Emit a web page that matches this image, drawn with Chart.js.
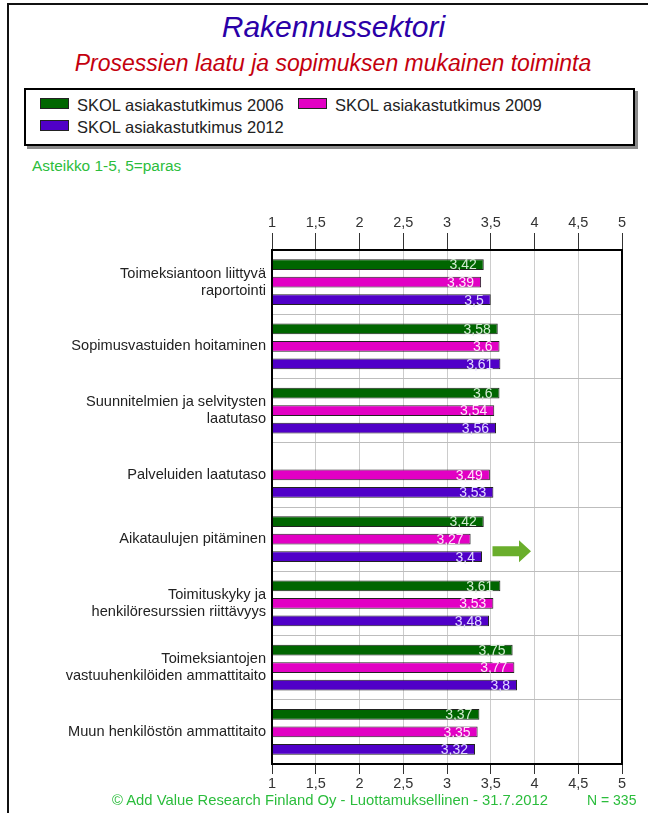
<!DOCTYPE html>
<html>
<head>
<meta charset="utf-8">
<script src="https://cdn.jsdelivr.net/npm/chart.js@4.4.1/dist/chart.umd.min.js"></script>
<style>
  body { margin: 0; width: 648px; height: 813px; position: relative; overflow: hidden; background: #fff;
         font-family: Arial, "Liberation Sans", sans-serif; }
  .frame-left { position: absolute; left: 7px; top: 3px; width: 2px; height: 810px; background: #111; }
  .frame-top { position: absolute; left: 7px; top: 3px; width: 641px; height: 2px; background: #111; }
  .txt { position: absolute; white-space: nowrap; }
  #title { left: 0; width: 667px; top: 12px; text-align: center; font-size: 30px; line-height: 30px;
           font-style: italic; color: #2a00a8; }
  #subtitle { left: 0; width: 666px; top: 52px; text-align: center; font-size: 23px; line-height: 23px;
              font-style: italic; color: #c4000e; }
  #legend { position: absolute; left: 24px; top: 88px; width: 607px; height: 54px; border: 2px solid #000;
            box-shadow: 3px 3px 0 #8a8a8a; }
  .sw { position: absolute; width: 27px; height: 9px; border: 1px solid #222; }
  .lg { font-size: 16.5px; line-height: 16px; color: #222; }
  #scale-note { left: 32px; top: 158px; font-size: 15.4px; line-height: 15px; color: #2bbd3c; }
  #footer { left: 112px; top: 793px; font-size: 14.8px; line-height: 15px; color: #2bbd3c; }
  #count { left: 587px; top: 793px; font-size: 14px; line-height: 15px; color: #2bbd3c; }
  #chartWrap { position: absolute; left: 0; top: 200px; }
</style>
</head>
<body>
<div class="frame-left"></div>
<div class="frame-top"></div>
<div id="title" class="txt">Rakennussektori</div>
<div id="subtitle" class="txt">Prosessien laatu ja sopimuksen mukainen toiminta</div>
<div id="legend"></div>
<div id="scale-note" class="txt">Asteikko 1-5, 5=paras</div>
<div id="chartWrap"><canvas id="scoreChart" width="648" height="594"></canvas></div>
<div id="footer" class="txt">© Add Value Research Finland Oy - Luottamuksellinen - 31.7.2012</div>
<div id="count" class="txt">N = 335</div>

<script>
const categories = [
  ["Toimeksiantoon liittyvä", "raportointi"],
  "Sopimusvastuiden hoitaminen",
  ["Suunnitelmien ja selvitysten", "laatutaso"],
  "Palveluiden laatutaso",
  "Aikataulujen pitäminen",
  ["Toimituskyky ja", "henkilöresurssien riittävyys"],
  ["Toimeksiantojen", "vastuuhenkilöiden ammattitaito"],
  "Muun henkilöstön ammattitaito",
];
const seriesNames = ["SKOL asiakastutkimus 2006", "SKOL asiakastutkimus 2009", "SKOL asiakastutkimus 2012"];
const survey2006 = [3.42, 3.58, 3.6, null, 3.42, 3.61, 3.75, 3.37];
const survey2009 = [3.39, 3.6, 3.54, 3.49, 3.27, 3.53, 3.77, 3.35];
const survey2012 = [3.5, 3.61, 3.56, 3.53, 3.4, 3.48, 3.8, 3.32];
const axisTicks = [1, 1.5, 2, 2.5, 3, 3.5, 4, 4.5, 5];
// improvement arrow next to "Aikataulujen pitäminen"
const arrowFrom = 3.52;
const arrowTo = 3.96;
const arrowRow = 4;

const barColors = ["#006600", "#e200c4", "#5000c8"];
const valueColors = ["#d2ecd2", "#ffe6f9", "#e0d8ff"];

// legend box in html
const legendBox = document.getElementById("legend");
const legendSpots = [[14, 8], [272, 8], [14, 30]];
seriesNames.forEach((name, i) => {
  const [lx, ly] = legendSpots[i];
  const sw = document.createElement("div");
  sw.className = "sw";
  sw.style.left = lx + "px";
  sw.style.top = ly + "px";
  sw.style.background = barColors[i];
  legendBox.appendChild(sw);
  const tx = document.createElement("div");
  tx.className = "txt lg";
  tx.style.left = (lx + 37) + "px";
  tx.style.top = (ly - 1) + "px";
  tx.textContent = name;
  legendBox.appendChild(tx);
});

const fmt = (v) => String(v).replace(".", ",");

const valueLabels = {
  id: "valueLabels",
  afterDatasetsDraw(chart) {
    const ctx = chart.ctx;
    ctx.save();
    ctx.font = "14px Arial, 'Liberation Sans', sans-serif";
    ctx.textAlign = "right";
    ctx.textBaseline = "middle";
    chart.data.datasets.forEach((ds, di) => {
      const meta = chart.getDatasetMeta(di);
      meta.data.forEach((bar, i) => {
        const v = ds.data[i];
        if (v === null || v === undefined) return;
        ctx.fillStyle = valueColors[di];
        ctx.fillText(fmt(v), bar.x - 7, bar.y + 1);
      });
    });
    ctx.restore();
  },
};

const plotFrame = {
  id: "plotFrame",
  afterDraw(chart) {
    const { ctx, chartArea: a, scales } = chart;
    ctx.save();
    ctx.strokeStyle = "#000";
    ctx.lineWidth = 2;
    ctx.strokeRect(a.left, a.top, a.right - a.left, a.bottom - a.top);

    // green arrow
    const x0 = scales.x.getPixelForValue(arrowFrom);
    const x1 = scales.x.getPixelForValue(arrowTo);
    const yc = scales.y.getPixelForValue(arrowRow) + 12;
    const head = 12;
    ctx.fillStyle = "#6aae2c";
    ctx.beginPath();
    ctx.moveTo(x0, yc - 5);
    ctx.lineTo(x1 - head, yc - 5);
    ctx.lineTo(x1 - head, yc - 11);
    ctx.lineTo(x1, yc);
    ctx.lineTo(x1 - head, yc + 11);
    ctx.lineTo(x1 - head, yc + 5);
    ctx.lineTo(x0, yc + 5);
    ctx.closePath();
    ctx.fill();
    ctx.restore();
  },
};

const valueAxis = (position, height, tickLen) => ({
  type: "linear",
  position: position,
  min: 1,
  max: 5,
  afterBuildTicks: (scale) => { scale.ticks = axisTicks.map((v) => ({ value: v })); },
  afterFit: (scale) => { scale.height = height; },
  border: { display: false },
  grid: { color: "#cccccc", lineWidth: 1, tickColor: "#333", tickLength: tickLen },
  ticks: {
    padding: 1,
    color: "#333",
    font: { family: "Arial, 'Liberation Sans', sans-serif", size: 14.5 },
    callback: (v) => fmt(v),
  },
});

const data = {
  labels: categories,
  datasets: [survey2006, survey2009, survey2012].map((vals, i) => ({
    label: seriesNames[i],
    data: vals,
    base: 1,
    backgroundColor: barColors[i],
    borderColor: "#222",
    borderWidth: 1,
    categoryPercentage: 0.82,
    barPercentage: 0.61,
  })),
};

const config = {
  type: "bar",
  data: data,
  options: {
    indexAxis: "y",
    responsive: false,
    animation: false,
    layout: { padding: { left: 0, right: 26, top: 0, bottom: 0 } },
    scales: {
      x: valueAxis("bottom", 30, 10),
      x2: valueAxis("top", 50, 17),
      y: {
        type: "category",
        position: "left",
        afterFit: (scale) => { scale.width = 272; },
        border: { display: false },
        grid: { color: "#bdbdbd", drawTicks: false, offset: true },
        ticks: {
          padding: 6,
          color: "#222",
          font: { family: "Arial, 'Liberation Sans', sans-serif", size: 14.6, lineHeight: 1.17 },
        },
      },
    },
    plugins: {
      legend: { display: false },
      tooltip: { enabled: false },
    },
  },
  plugins: [valueLabels, plotFrame],
};

document.addEventListener("DOMContentLoaded", () => {
  new Chart(document.getElementById("scoreChart"), config);
});
</script>
</body>
</html>
